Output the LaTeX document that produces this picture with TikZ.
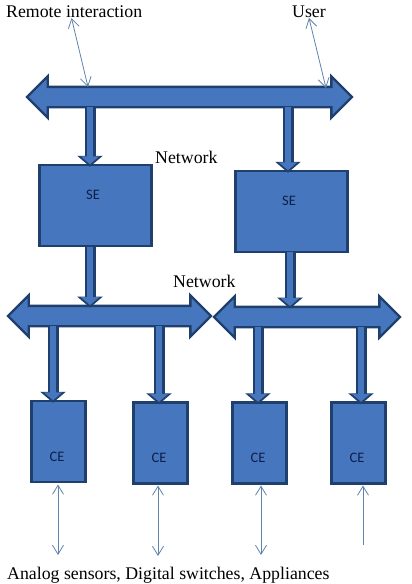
\documentclass[tikz,border=0pt]{standalone}
\usepackage{fontspec}
\setmainfont{Liberation Serif}
\newfontfamily\boxfont{Carlito}
\usetikzlibrary{arrows.meta,shapes.arrows}
\definecolor{barfill}{HTML}{4676BD}
\definecolor{barline}{HTML}{1F3F6C}
\definecolor{thinline}{HTML}{5F83AC}
\definecolor{boxtext}{HTML}{0F1F4A}
\begin{document}
\begin{tikzpicture}[
  x=1pt, y=-1pt,
  bus/.style={double arrow, draw=barline, fill=barfill, line width=2.4pt, inner sep=0pt,
    text height=18pt, text depth=0pt, text width=0pt, double arrow head extend=10.5pt},
  sebox/.style={rectangle, draw=barline, fill=barfill, line width=2.5pt, inner sep=0pt,
    minimum width=112pt, minimum height=81pt},
  cebox/.style={rectangle, draw=barline, fill=barfill, line width=2.5pt, inner sep=0pt,
    minimum width=54pt, minimum height=81pt},
  boxlabel/.style={inner sep=0pt, text=boxtext, font=\boxfont\fontsize{14.5}{16}\selectfont},
  caption/.style={anchor=base west, inner sep=0pt, font=\fontsize{17.8}{20}\selectfont},
  feed/.style={draw=barline, line width=11pt, shorten >=-3pt, -{Triangle[length=11pt,width=25pt]},
    postaction={draw=barfill, line width=6pt, shorten >=-0.5pt, -{Triangle[length=8pt,width=18pt]}}},
  link/.style={draw=thinline, line width=0.8pt, {Straight Barb[length=9pt,width=11pt]}-{Straight Barb[length=9pt,width=11pt]}},
  halflink/.style={draw=thinline, line width=0.8pt, {Straight Barb[length=9pt,width=11pt]}-}
]
  \useasboundingbox (0,0) rectangle (412,584);

  % Buses
  \node[bus, minimum height=325pt] (bustop) at (189.5,97) {};
  \node[bus, minimum height=203pt] (busleft) at (109.5,316) {};
  \node[bus, minimum height=186pt] (busright) at (307,317) {};

  % Boxes
  \node[sebox] (se1) at (95.7,205.5) {};
  \node[sebox] (se2) at (291.5,211.5) {};
  \node[cebox] (ce1) at (58.5,441.5) {};
  \node[cebox] (ce2) at (160.5,443) {};
  \node[cebox] (ce3) at (259.5,443) {};
  \node[cebox] (ce4) at (358.5,443) {};
  \node[boxlabel] (se1t) at (93,195) {SE};
  \node[boxlabel] (se2t) at (289,201) {SE};
  \node[boxlabel] (ce1t) at (57,457) {CE};
  \node[boxlabel] (ce2t) at (159,458) {CE};
  \node[boxlabel] (ce3t) at (258,458) {CE};
  \node[boxlabel] (ce4t) at (357,458) {CE};

  % Texts
  \node[caption] (remote) at (6,17) {Remote interaction};
  \node[caption] (user) at (292,17) {User};
  \node[caption] (net1) at (155,163) {Network};
  \node[caption] (net2) at (173,287) {Network};
  \node[caption] (sensors) at (7,579) {Analog sensors, Digital switches, Appliances};

  % Block arrows
  \coordinate (a1) at (90,107);
  \coordinate (a2) at (288,107);
  \coordinate (a3) at (90,247);
  \coordinate (a4) at (290,252);
  \coordinate (a5) at (53,326);
  \coordinate (a6) at (159,326);
  \coordinate (a7) at (258,327);
  \coordinate (a8) at (361,327);
  \draw[feed] (a1) -- (a1 |- se1.north);
  \draw[feed] (a2) -- (a2 |- se2.north);
  \draw[feed] (a3) -- (a3 |- busleft.north);
  \draw[feed] (a4) -- (a4 |- busright.north);
  \draw[feed] (a5) -- (a5 |- ce1.north);
  \draw[feed] (a6) -- (a6 |- ce2.north);
  \draw[feed] (a7) -- (a7 |- ce3.north);
  \draw[feed] (a8) -- (a8 |- ce4.north);

  % Thin arrows
  \coordinate (u1) at (71.5,18);
  \coordinate (u2) at (88,87);
  \coordinate (u3) at (309,18);
  \coordinate (u4) at (326,88);
  \draw[link] (u1) -- (u2);
  \draw[link] (u3) -- (u4);
  \coordinate (d1) at (58,484.5);
  \coordinate (d2) at (58,555);
  \coordinate (d3) at (158,485.5);
  \coordinate (d4) at (158,556);
  \coordinate (d5) at (261,485.5);
  \coordinate (d6) at (261,555);
  \coordinate (d7) at (363,485.5);
  \coordinate (d8) at (363,545);
  \draw[link] (d1) -- (d2);
  \draw[link] (d3) -- (d4);
  \draw[link] (d5) -- (d6);
  \draw[halflink] (d7) -- (d8);
\end{tikzpicture}
\end{document}
